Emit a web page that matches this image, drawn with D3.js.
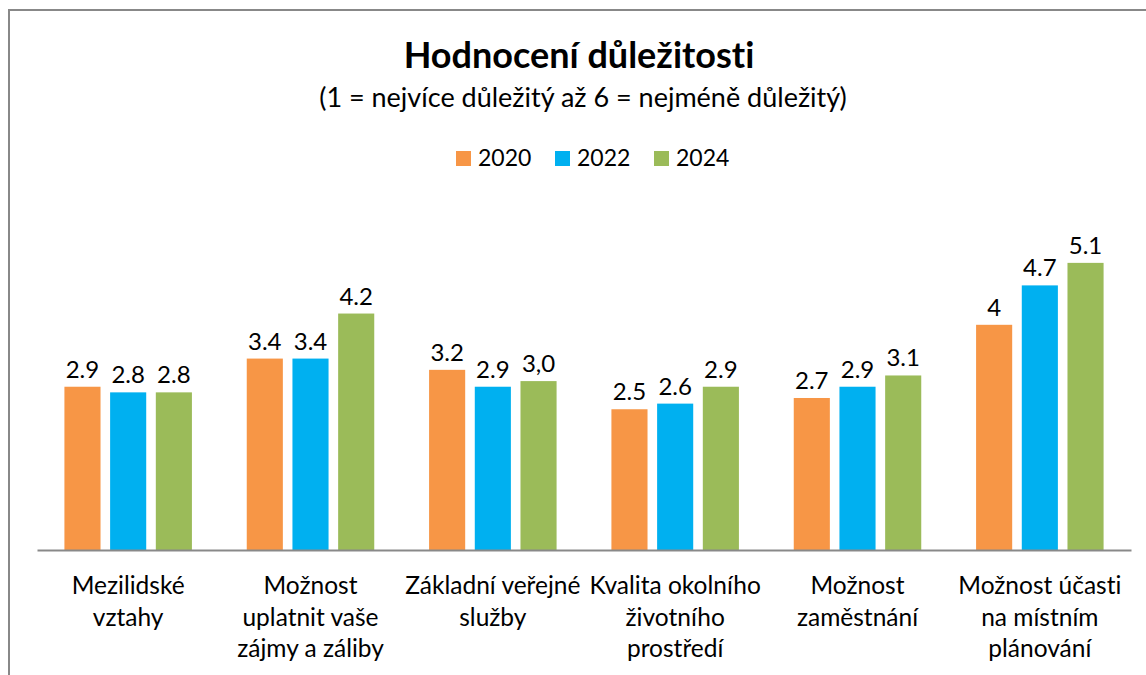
<!DOCTYPE html>
<html>
<head>
<meta charset="utf-8">
<script src="https://cdn.jsdelivr.net/npm/d3@7"></script>
<style>
  body { margin: 0; background: #fff; }
  svg text { font-family: Lato, "Open Sans", sans-serif; fill: #000; font-variant-ligatures: none; }
</style>
</head>
<body>
<div id="chart"></div>
<script>
// data
const categories = [
    ["Mezilidské", "vztahy"],
    ["Možnost", "uplatnit vaše", "zájmy a záliby"],
    ["Základní veřejné", "služby"],
    ["Kvalita okolního", "životního", "prostředí"],
    ["Možnost", "zaměstnání"],
    ["Možnost účasti", "na místním", "plánování"]
];
const years = ["2020", "2022", "2024"];
const values2020 = [2.9, 3.4, 3.2, 2.5, 2.7, 4];
const values2022 = [2.8, 3.4, 2.9, 2.6, 2.9, 4.7];
const values2024 = [2.8, 4.2, 3.0, 2.9, 3.1, 5.1];
const labels2020 = ["2.9", "3.4", "3.2", "2.5", "2.7", "4"];
const labels2022 = ["2.8", "3.4", "2.9", "2.6", "2.9", "4.7"];
const labels2024 = ["2.8", "4.2", "3,0", "2.9", "3.1", "5.1"];
const colors = ["#F79646", "#00B0F0", "#9BBB59"];

const width = 1146, height = 675;
const baseY = 550;

const svg = d3.select("#chart").append("svg")
    .attr("width", width)
    .attr("height", height);

// chart frame (only top and left visible)
svg.append("path")
    .attr("d", "M9,675 V10 H1146")
    .attr("fill", "none")
    .attr("stroke", "#888")
    .attr("stroke-width", 2);

// Title
svg.append("text")
    .attr("x", 579).attr("y", 68)
    .attr("text-anchor", "middle")
    .style("font-size", "36px")
    .style("font-weight", "bold")
    .text("Hodnocení důležitosti");

svg.append("text")
    .attr("x", 583).attr("y", 107)
    .attr("text-anchor", "middle")
    .style("font-size", "27px")
    .text("(1 = nejvíce důležitý až 6 = nejméně důležitý)");

// scales
const catIndex = d3.range(categories.length);
const x0 = d3.scaleBand()
    .domain(catIndex)
    .range([37, 1131]);

const x1 = d3.scaleBand()
    .domain(years)
    .range([0, x0.bandwidth()])
    .paddingInner(0.21)
    .paddingOuter(0.6);

const y = d3.scaleLinear()
    .domain([0, 6])
    .range([baseY, baseY - 6 * 56.3]);

const series = years.map((yr, i) => ({
    year: yr,
    color: colors[i],
    values: [values2020, values2022, values2024][i],
    labels: [labels2020, labels2022, labels2024][i]
}));

// bars
const groups = svg.selectAll(".series")
    .data(series)
    .enter()
    .append("g")
    .attr("class", "series");

groups.selectAll("rect")
    .data(s => s.values.map((v, i) => ({ v: v, i: i, year: s.year, color: s.color })))
    .enter()
    .append("rect")
    .attr("x", d => x0(d.i) + x1(d.year))
    .attr("y", d => y(d.v))
    .attr("width", x1.bandwidth())
    .attr("height", d => y(0) - y(d.v))
    .attr("fill", d => d.color);

// data labels
groups.selectAll("text")
    .data(s => s.values.map((v, i) => ({ v: v, i: i, year: s.year, label: s.labels[i] })))
    .enter()
    .append("text")
    .attr("x", d => x0(d.i) + x1(d.year) + x1.bandwidth() / 2)
    .attr("y", d => y(d.v) - 9)
    .attr("text-anchor", "middle")
    .style("font-size", "24px")
    .text(d => d.label);

// x axis line
const xAxis = svg.append("g")
    .attr("transform", "translate(0," + baseY + ")")
    .call(d3.axisBottom(x0).tickSize(0).tickFormat(""));
xAxis.select(".domain")
    .attr("stroke", "#898989")
    .attr("stroke-width", 2);

// category labels
const catLabels = svg.selectAll(".cat")
    .data(categories)
    .enter()
    .append("text")
    .attr("class", "cat")
    .attr("text-anchor", "middle")
    .style("font-size", "24.5px");

catLabels.selectAll("tspan")
    .data((d, i) => d.map(line => ({ line: line, i: i })))
    .enter()
    .append("tspan")
    .attr("x", d => x0(d.i) + x0.bandwidth() / 2)
    .attr("y", (d, j) => 594 + j * 31.5)
    .text(d => d.line);

// legend
const legendX = [456, 555, 654];
const legend = svg.selectAll(".legend")
    .data(series)
    .enter()
    .append("g")
    .attr("class", "legend")
    .attr("transform", (d, i) => "translate(" + legendX[i] + ",151)");

legend.append("rect")
    .attr("width", 15)
    .attr("height", 15)
    .attr("fill", d => d.color);

legend.append("text")
    .attr("x", 22)
    .attr("y", 15)
    .style("font-size", "23px")
    .text(d => d.year);
</script>
</body>
</html>
